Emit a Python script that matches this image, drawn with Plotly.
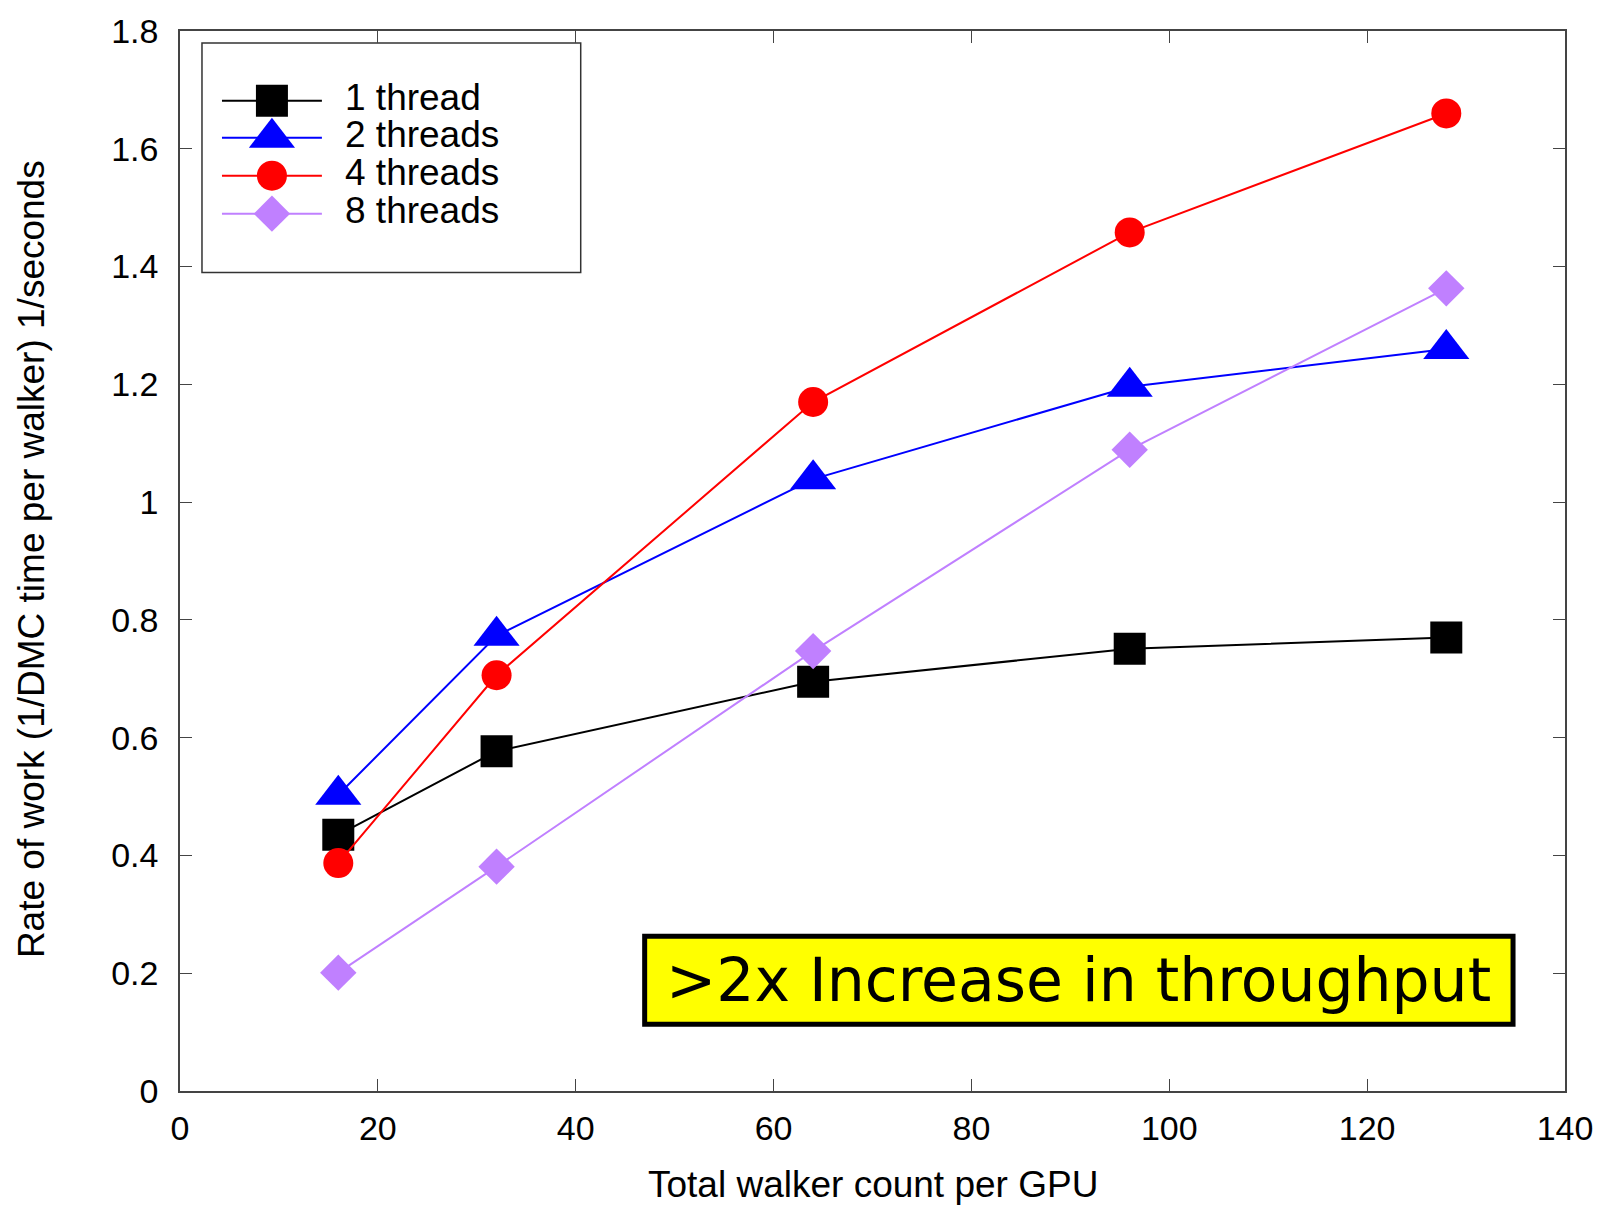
import plotly.graph_objects as go

walkers = [16, 32, 64, 96, 128]
series_names = ["1 thread", "2 threads", "4 threads", "8 threads"]
rate_1 = [0.435, 0.577, 0.695, 0.751, 0.770]
rate_2 = [0.503, 0.773, 1.039, 1.196, 1.260]
rate_4 = [0.387, 0.706, 1.170, 1.458, 1.660]
rate_8 = [0.201, 0.381, 0.747, 1.089, 1.363]
x_ticks = [0, 20, 40, 60, 80, 100, 120, 140]
y_ticks = [0, 0.2, 0.4, 0.6, 0.8, 1.0, 1.2, 1.4, 1.6, 1.8]
y_ticktext = ["0", "0.2", "0.4", "0.6", "0.8", "1", "1.2", "1.4", "1.6", "1.8"]

colors = ["#000000", "#0000ff", "#ff0000", "#c080ff"]
symbols = ["square", "triangle-up", "circle", "diamond"]
msizes = [32, 40, 30, 28]
values = [rate_1, rate_2, rate_4, rate_8]

W, H = 1605, 1205
L, R, T, B = 180, 39, 29, 114
PW, PH = W - L - R, H - T - B

fig = go.Figure()
for name, vals, c, s, ms in zip(series_names, values, colors, symbols, msizes):
    fig.add_trace(go.Scatter(x=walkers, y=vals, mode="lines+markers", name=name,
                             line=dict(color=c, width=2),
                             marker=dict(color=c, symbol=s, size=ms, line=dict(width=0)),
                             showlegend=False))

# manual legend drawn on an overlay axis in pixel units
row_y = [99, 136, 174, 212]
for name, c, s, ms, ry in zip(series_names, colors, symbols, msizes, row_y):
    ypix = (H - B) - ry
    fig.add_trace(go.Scatter(x=[222 - L, 322 - L], y=[ypix, ypix], mode="lines",
                             line=dict(color=c, width=2), xaxis="x2", yaxis="y2",
                             showlegend=False, hoverinfo="skip"))
    fig.add_trace(go.Scatter(x=[272 - L], y=[ypix], mode="markers",
                             marker=dict(color=c, symbol=s, size=ms, line=dict(width=0)),
                             xaxis="x2", yaxis="y2", showlegend=False, hoverinfo="skip"))
    fig.add_annotation(x=343 - L, y=ypix + 3, xref="x2", yref="y2", text=name,
                       showarrow=False, xanchor="left", yanchor="middle",
                       font=dict(family="Liberation Sans, Arial", size=37, color="#000"))

axis_common = dict(showgrid=False, zeroline=False, showline=True, linecolor="#444",
                   linewidth=1.5, mirror="ticks", ticks="inside", ticklen=12,
                   tickcolor="#444", tickwidth=1,
                   tickfont=dict(family="Liberation Sans, Arial", size=34, color="#000"))

fig.update_layout(
    width=W, height=H,
    margin=dict(l=L, r=R, t=T, b=B),
    paper_bgcolor="white", plot_bgcolor="white",
    xaxis=dict(range=[0, 140], tickvals=x_ticks, ticklabelstandoff=6, **axis_common),
    yaxis=dict(range=[0, 1.8], tickvals=y_ticks, ticktext=y_ticktext,
               ticklabelstandoff=13, **axis_common),
    xaxis2=dict(overlaying="x", range=[0, PW], visible=False, fixedrange=True),
    yaxis2=dict(overlaying="y", range=[0, PH], visible=False, fixedrange=True),
    shapes=[
        dict(type="rect", xref="paper", yref="paper",
             x0=(202 - L) / PW, x1=(581 - L) / PW,
             y0=(H - B - 271) / PH, y1=(H - B - 41) / PH,
             line=dict(color="#333", width=1.5), fillcolor="rgba(0,0,0,0)", layer="below"),
        dict(type="rect", xref="paper", yref="paper",
             x0=(645 - L) / PW, x1=(1514 - L) / PW,
             y0=(H - B - 1024) / PH, y1=(H - B - 936) / PH,
             line=dict(color="#000", width=5), fillcolor="#ffff00", layer="above"),
    ],
    showlegend=False,
)

fig.add_annotation(x=((645 + 1514) / 2 - L) / PW, y=(H - B - 980) / PH, xref="paper", yref="paper",
                   text=">2x Increase in throughput", showarrow=False,
                   xanchor="center", yanchor="middle",
                   font=dict(family="DejaVu Sans, Liberation Sans", size=60, color="#000"))
fig.add_annotation(x=0.5, y=-(1185 - (H - B)) / PH, xref="paper", yref="paper",
                   text="Total walker count per GPU", showarrow=False,
                   xanchor="center", yanchor="middle",
                   font=dict(family="Liberation Sans, Arial", size=37, color="#000"))
fig.add_annotation(x=-(L - 31) / PW, y=((H - B) - 558) / PH, xref="paper", yref="paper",
                   text="Rate of work (1/DMC time per walker) 1/seconds", showarrow=False,
                   textangle=-90, xanchor="center", yanchor="middle",
                   font=dict(family="Liberation Sans, Arial", size=37, color="#000"))

fig.write_html("out.html")
